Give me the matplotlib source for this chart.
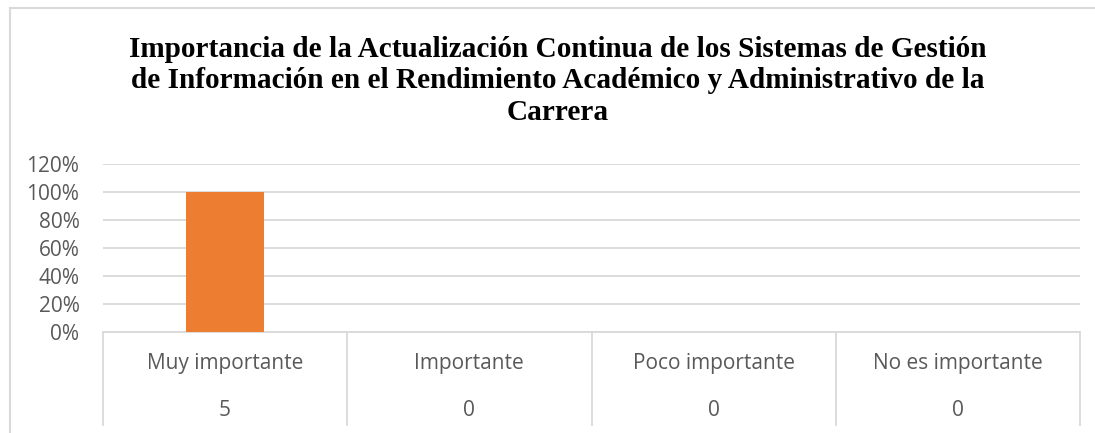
import matplotlib.pyplot as plt
from matplotlib.lines import Line2D
from matplotlib.ticker import PercentFormatter

categories = ['Muy importante', 'Importante', 'Poco importante', 'No es importante']
counts = [5, 0, 0, 0]
percentages = [1.0, 0.0, 0.0, 0.0]
y_ticks = [0, 0.2, 0.4, 0.6, 0.8, 1.0, 1.2]

W, H = 1095, 433
fig = plt.figure(figsize=(W / 100, H / 100), dpi=100)
grid_col = '#d9d9d9'
text_col = '#595959'

# outer chart frame (only top and left edges are visible)
fig.add_artist(Line2D([10 / W, 1.02], [1 - 8 / H, 1 - 8 / H], color=grid_col, lw=1.5))
fig.add_artist(Line2D([10 / W, 10 / W], [1 - 8 / H, -0.02], color=grid_col, lw=1.5))

# title
fig.text(558 / W, 1 - 81 / H,
         'Importancia de la Actualización Continua de los Sistemas de Gestión\n'
         'de Información en el Rendimiento Académico y Administrativo de la\n'
         'Carrera',
         ha='center', va='center', family='Liberation Serif', weight='bold',
         fontsize=21.1, linespacing=1.21, color='black')

left, right = 103 / W, 1080 / W
bottom, top = 1 - 332.3 / H, 1 - 163.7 / H
ax = fig.add_axes([left, bottom, right - left, top - bottom])

x = range(len(categories))
ax.bar(x, percentages, width=0.32, color='#ED7D31', zorder=3)

ax.set_xlim(-0.5, len(categories) - 0.5)
ax.set_ylim(0, 1.2)
ax.set_yticks(y_ticks)
ax.yaxis.set_major_formatter(PercentFormatter(1.0, decimals=0))
ax.tick_params(axis='y', length=0, pad=17, labelsize=15, labelcolor=text_col)
for lab in ax.get_yticklabels():
    lab.set_family('Open Sans')
ax.set_xticks([])
ax.grid(axis='y', color=grid_col, lw=1.3, zorder=0)
for s in ax.spines.values():
    s.set_visible(False)

# category table below the axis
px = 1 / ((top - bottom) * H)
depth = -(425 - 332.3) * px
for b in [i - 0.5 for i in range(len(categories) + 1)]:
    ax.plot([b, b], [0, depth], color=grid_col, lw=1.3,
            transform=ax.get_xaxis_transform(), clip_on=False)
ax.plot([-0.5, len(categories) - 0.5], [0, 0], color=grid_col, lw=1.3,
        transform=ax.get_xaxis_transform(), clip_on=False)

for i, (c, n) in enumerate(zip(categories, counts)):
    ax.text(i, -(363 - 332.3) * px, c, ha='center', va='center',
            transform=ax.get_xaxis_transform(), family='Open Sans',
            fontsize=15, color=text_col)
    ax.text(i, -(410 - 332.3) * px, str(n), ha='center', va='center',
            transform=ax.get_xaxis_transform(), family='Open Sans',
            fontsize=15, color=text_col)

fig.savefig('out.png', dpi=100)
